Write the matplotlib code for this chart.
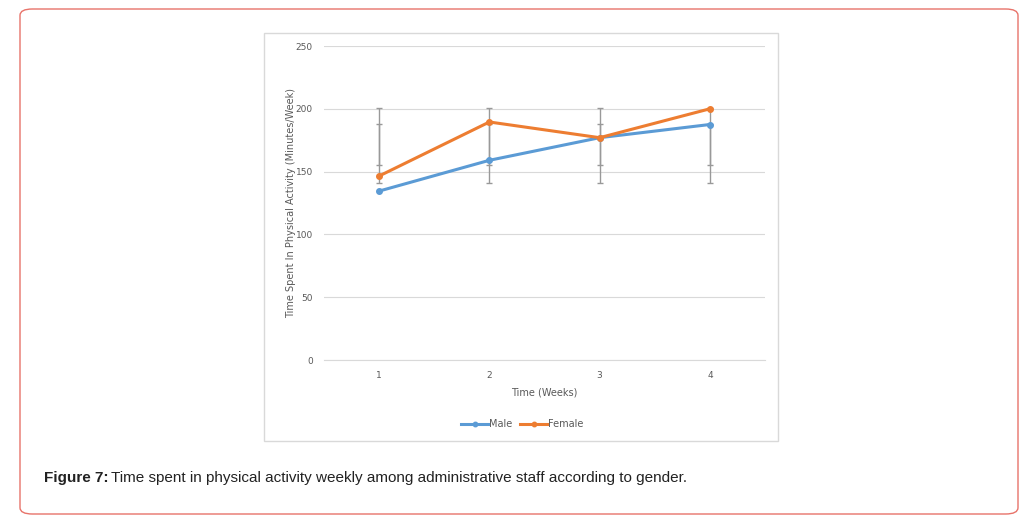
import matplotlib.pyplot as plt
from matplotlib.patches import FancyBboxPatch, Rectangle

# data
weeks = [1, 2, 3, 4]
male = [134.5, 159, 177, 187.5]
female = [146.5, 189.5, 177, 200]
# grey error bars drawn at each week (outer and inner ranges)
outer_low = [141, 141, 141, 141]
outer_high = [201, 201, 201, 201]
inner_low = [155, 155, 155, 155]
inner_high = [188, 188, 188, 188]

W, H = 1035, 525
fig = plt.figure(figsize=(W / 100, H / 100), dpi=100)

# outer rounded frame
frame = FancyBboxPatch((20 / W, 11 / H), 998 / W, 505 / H,
                       boxstyle="round,pad=0,rounding_size=0.012",
                       transform=fig.transFigure, fill=False,
                       edgecolor='#e8736a', linewidth=1.0)
fig.patches.append(frame)

# chart box
box = Rectangle((264 / W, 1 - 441 / H), 514 / W, 408 / H, transform=fig.transFigure,
                fill=False, edgecolor='#d9d9d9', linewidth=1.0)
fig.patches.append(box)

ax = fig.add_axes([324 / W, 1 - 360 / H, 441 / W, 314 / H])

for lo, hi in [(outer_low, outer_high), (inner_low, inner_high)]:
    ax.vlines(weeks, lo, hi, color='#999999', linewidth=1.0, zorder=2)
    ax.scatter(weeks, lo, marker='_', s=14, color='#999999', linewidths=1.0, zorder=2)
    ax.scatter(weeks, hi, marker='_', s=14, color='#999999', linewidths=1.0, zorder=2)

ax.plot(weeks, male, color='#5b9bd5', linewidth=2.2, marker='o', markersize=4,
        label='Male', zorder=3)
ax.plot(weeks, female, color='#ed7d31', linewidth=2.2, marker='o', markersize=4,
        label='Female', zorder=4)

ax.set_xlim(0.5, 4.5)
ax.set_ylim(0, 250)
ax.set_yticks([0, 50, 100, 150, 200, 250])
ax.set_xticks(weeks)
ax.grid(axis='y', color='#d9d9d9', linewidth=0.8)
ax.set_axisbelow(True)
for side in ['top', 'right', 'left']:
    ax.spines[side].set_visible(False)
ax.spines['bottom'].set_color('#d9d9d9')
ax.tick_params(length=0, labelsize=6.5, labelcolor='#595959', pad=8)

ax.set_xlabel('Time (Weeks)', fontsize=7, color='#595959', labelpad=5)
ax.set_ylabel('Time Spent In Physical Activity (Minutes/Week)', fontsize=7,
              color='#595959', labelpad=0)

ax.legend(loc='upper center', bbox_to_anchor=(0.45, -0.16), ncol=2, frameon=False,
          fontsize=7, handlelength=2.8, handletextpad=0.1, columnspacing=0.8,
          labelcolor='#595959', markerscale=0.8)

fig.text(44 / W, 1 - 478 / H, 'Figure 7:', fontsize=11, fontweight='bold',
         family='Liberation Sans', va='center', color='#222222')
fig.text(111 / W, 1 - 478 / H,
         'Time spent in physical activity weekly among administrative staff according to gender.',
         fontsize=11, family='Liberation Sans', va='center', color='#222222')

fig.savefig('out.png', dpi=100)
